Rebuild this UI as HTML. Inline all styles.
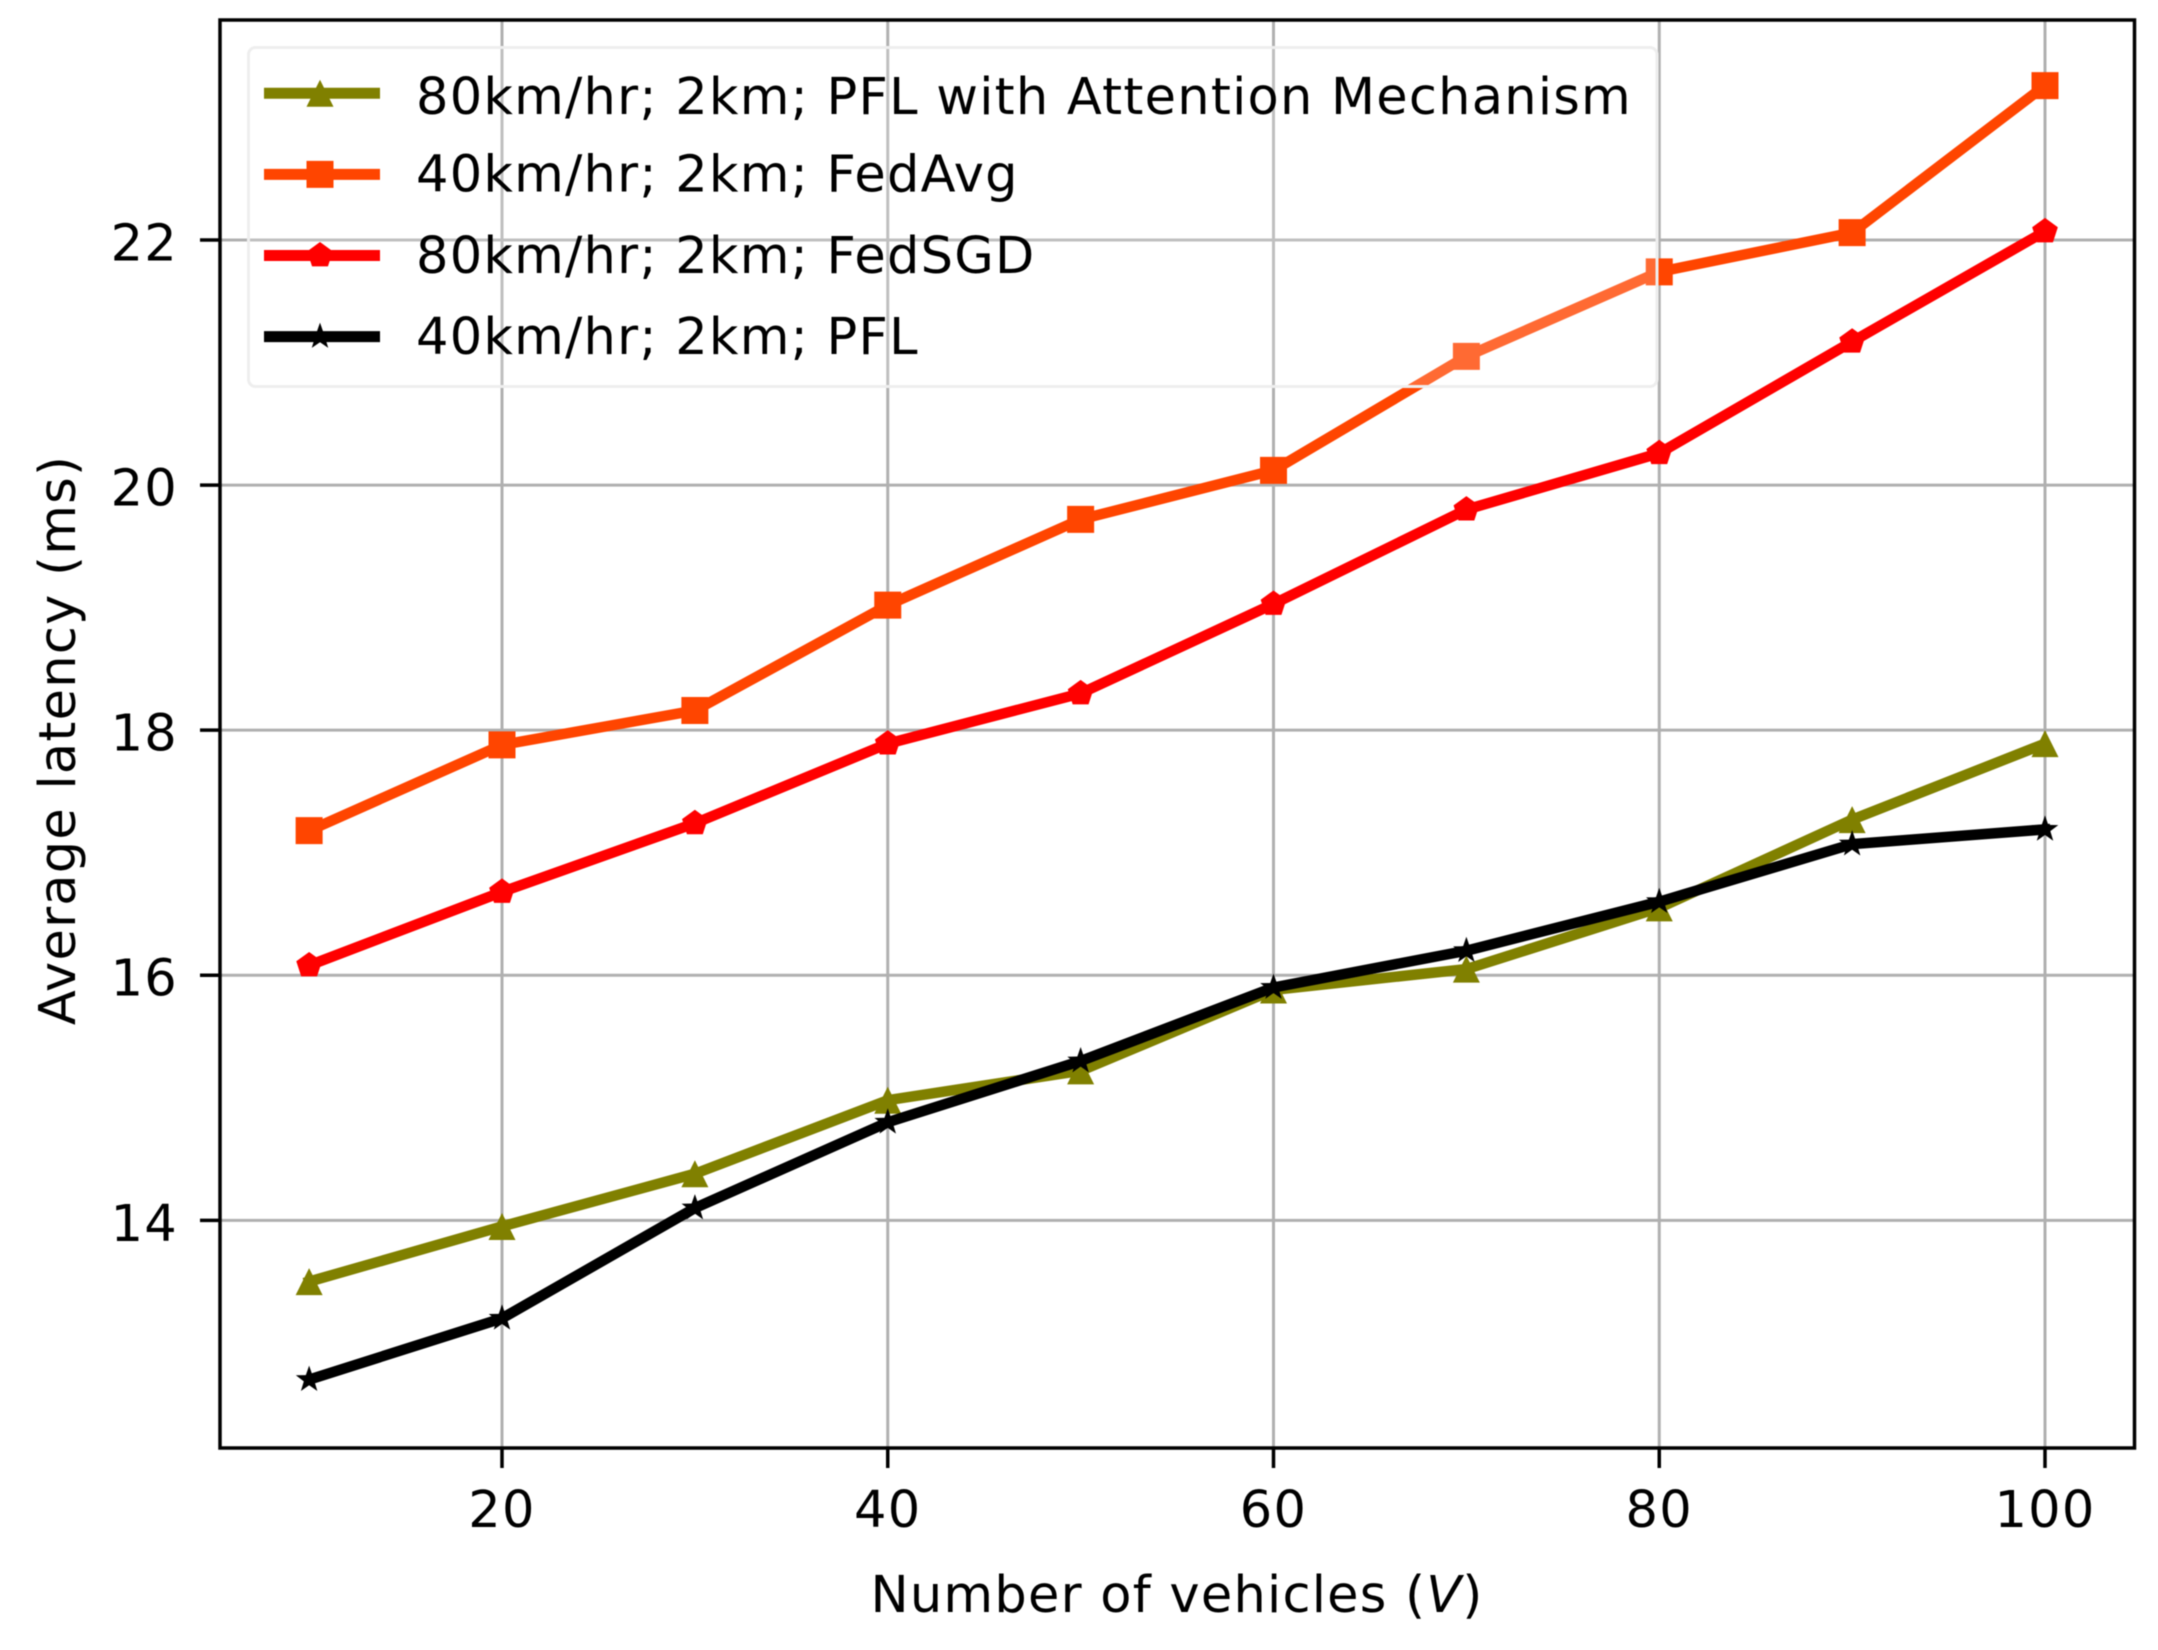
<!DOCTYPE html>
<html lang="en">
<head>
<meta charset="utf-8">
<title>Average latency vs number of vehicles</title>
<style>
html,body{margin:0;padding:0;background:#fff;}
body{width:2158px;height:1650px;overflow:hidden;}
svg{display:block;filter:blur(0.6px);}
text{font-family:"DejaVu Sans","Liberation Sans",sans-serif;fill:#000;}
.tick-label,.axis-title,.legend-label{font-size:51px;letter-spacing:1.25px;}
</style>
</head>
<body>
<svg id="chart" xmlns="http://www.w3.org/2000/svg" width="2158" height="1650" viewBox="0 0 2158 1650">
  <g id="plot-area"></g>
</svg>
<script>
const vehicles = [10, 20, 30, 40, 50, 60, 70, 80, 90, 100];
const pflAttention = [13.5, 13.95, 14.38, 14.98, 15.22, 15.88, 16.05, 16.55, 17.27, 17.89];
const fedAvg = [17.18, 17.88, 18.16, 19.02, 19.72, 20.12, 21.05, 21.74, 22.06, 23.26];
const fedSgd = [16.08, 16.68, 17.24, 17.89, 18.30, 19.03, 19.80, 20.26, 21.17, 22.07];
const pfl = [12.7, 13.2, 14.1, 14.8, 15.3, 15.9, 16.2, 16.6, 17.07, 17.19];
const xTicks = [20, 40, 60, 80, 100];
const yTicks = [14, 16, 18, 20, 22];
const legendLabels = ['80km/hr; 2km; PFL with Attention Mechanism', '40km/hr; 2km; FedAvg', '80km/hr; 2km; FedSGD', '40km/hr; 2km; PFL'];
const seriesValues = [pflAttention, fedAvg, fedSgd, pfl];
const seriesNames = ['pfl-attention', 'fedavg', 'fedsgd', 'pfl'];
const seriesColors = ['#808000', '#ff4500', '#ff0000', '#000000'];
const seriesMarkers = ['triangle', 'square', 'pentagon', 'star'];

const SVG_NS = 'http://www.w3.org/2000/svg';
const root = document.getElementById('plot-area');
const box = { left: 220, right: 2134.5, top: 20, bottom: 1448 };

function xScale(v) { return 502 + (v - 20) * 19.2875; }
function yScale(v) { return 240 + (22 - v) * 122.54; }

function make(tag, attrs, parent) {
  const node = document.createElementNS(SVG_NS, tag);
  for (const key in attrs) node.setAttribute(key, attrs[key]);
  (parent || root).appendChild(node);
  return node;
}

function markerPoints(kind, cx, cy) {
  const pts = [];
  if (kind === 'triangle') {
    pts.push([cx, cy - 13.5], [cx + 13.5, cy + 13.5], [cx - 13.5, cy + 13.5]);
  } else if (kind === 'square') {
    pts.push([cx - 13.5, cy - 13.5], [cx + 13.5, cy - 13.5], [cx + 13.5, cy + 13.5], [cx - 13.5, cy + 13.5]);
  } else if (kind === 'pentagon') {
    for (let i = 0; i < 5; i++) {
      const a = -Math.PI / 2 + i * 2 * Math.PI / 5;
      pts.push([cx + 13.5 * Math.cos(a), cy + 13.5 * Math.sin(a)]);
    }
  } else {
    for (let i = 0; i < 10; i++) {
      const a = -Math.PI / 2 + i * Math.PI / 5;
      const r = i % 2 === 0 ? 14 : 5.6;
      pts.push([cx + r * Math.cos(a), cy + r * Math.sin(a)]);
    }
  }
  return pts.map(p => p[0].toFixed(2) + ',' + p[1].toFixed(2)).join(' ');
}

/* gridlines */
xTicks.forEach(function (t) {
  const line = make('line', { x1: xScale(t), x2: xScale(t), y1: box.top, y2: box.bottom, stroke: '#b0b0b0', 'stroke-width': 3 });
  
  
});
yTicks.forEach(function (t) {
  const line = make('line', { x1: box.left, x2: box.right, y1: yScale(t), y2: yScale(t), stroke: '#b0b0b0', 'stroke-width': 3 });
  
  
});

/* series */
seriesValues.forEach(function (values, s) {
  const group = make('g', {});
  
  
  const pointList = values.map(function (v, i) { return xScale(vehicles[i]).toFixed(2) + ',' + yScale(v).toFixed(2); }).join(' ');
  const path = make('polyline', { points: pointList, fill: 'none', stroke: seriesColors[s], 'stroke-width': 10.5, 'stroke-linejoin': 'round', 'stroke-linecap': 'square' }, group);
  
  
  values.forEach(function (v, i) {
    const mark = make('polygon', { points: markerPoints(seriesMarkers[s], xScale(vehicles[i]), yScale(v)), fill: seriesColors[s] }, group);
    
    
  });
});

/* axes frame and ticks */
const frame = make('rect', { x: box.left, y: box.top, width: box.right - box.left, height: box.bottom - box.top, fill: 'none', stroke: '#000', 'stroke-width': 3.5 });



xTicks.forEach(function (t) {
  const tick = make('line', { x1: xScale(t), x2: xScale(t), y1: box.bottom, y2: box.bottom + 20, stroke: '#000', 'stroke-width': 3.5 });
  
  
  const label = make('text', { x: xScale(t), y: 1527, 'text-anchor': 'middle', class: 'tick-label' });
  label.textContent = String(t);
  
  
});
yTicks.forEach(function (t) {
  const tick = make('line', { x1: box.left - 20, x2: box.left, y1: yScale(t), y2: yScale(t), stroke: '#000', 'stroke-width': 3.5 });
  
  
  const label = make('text', { x: 178, y: yScale(t) + 20.5, 'text-anchor': 'end', class: 'tick-label' });
  label.textContent = String(t);
  
  
});

/* axis titles */
const xTitle = make('text', { x: 1177, y: 1612, 'text-anchor': 'middle', class: 'axis-title' });
xTitle.appendChild(document.createTextNode('Number of vehicles ('));
const xTitleVar = make('tspan', { 'font-style': 'italic' }, xTitle);
xTitleVar.textContent = 'V';
xTitle.appendChild(document.createTextNode(')'));



const yTitle = make('text', { x: 0, y: 0, 'text-anchor': 'middle', class: 'axis-title', transform: 'translate(75 740) rotate(-90)' });
yTitle.textContent = 'Average latency (ms)';



/* legend */
const legend = make('g', {});


const legendBox = make('rect', { x: 248.5, y: 47.5, width: 1408.5, height: 339, rx: 7, ry: 7, fill: '#fff', 'fill-opacity': 0.2, stroke: '#eeeeee', 'stroke-width': 3 }, legend);


const legendRowOffset = 81.1;
legendLabels.forEach(function (text, s) {
  const rowY = 93.3 + s * legendRowOffset;
  const entry = make('g', {}, legend);
  
  
  const swatch = make('line', { x1: 264, x2: 380, y1: rowY, y2: rowY, stroke: seriesColors[s], 'stroke-width': 11 }, entry);
  
  
  const mark = make('polygon', { points: markerPoints(seriesMarkers[s], 320, rowY), fill: seriesColors[s] }, entry);
  
  
  const label = make('text', { x: 416, y: rowY + (s === 0 ? 20.7 : 17.3), class: 'legend-label' }, entry);
  label.textContent = text;
  
  
});
</script>
</body>
</html>
